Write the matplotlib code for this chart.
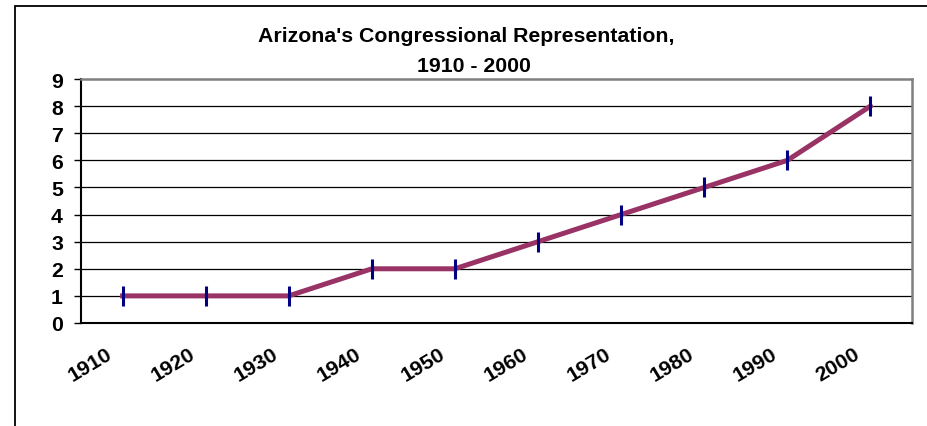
import matplotlib.pyplot as plt
from matplotlib.patches import Rectangle
from matplotlib.transforms import ScaledTranslation

plt.rcParams['font.family'] = ['Liberation Sans', 'DejaVu Sans']

years = ['1910', '1920', '1930', '1940', '1950', '1960', '1970', '1980', '1990', '2000']
seats = [1, 1, 1, 2, 2, 3, 4, 5, 6, 8]

W, H = 927, 427
FS = 15.3
fig = plt.figure(figsize=(W / 100, H / 100), dpi=100)
ax = fig.add_axes([81 / W, 1 - 324 / H, (912 - 81) / W, (324 - 80) / H])

# outer chart border (runs off the right and bottom edges)
fig.patches.append(Rectangle((15 / W, -0.1), 1.2, 1 - 7 / H + 0.1, transform=fig.transFigure,
                             fill=False, edgecolor='black', linewidth=1.3))

x = range(len(years))
ax.plot(x, seats, color='#993366', linewidth=3.6, zorder=3)
ax.plot(x, seats, linestyle='none', marker='|', markersize=15, markeredgewidth=2.2,
        color='#000080', zorder=4)

ax.set_xlim(-0.5, len(years) - 0.5)
ax.set_ylim(0, 9)
ax.set_yticks(range(10))
ax.set_yticklabels([str(i) for i in range(10)], fontsize=FS, fontweight='bold')
for yv in range(1, 9):
    ax.axhline(yv, color='black', linewidth=0.9, zorder=1)

ax.set_xticks(list(x))
ax.set_xticklabels(years, fontsize=FS, fontweight='bold', rotation=31, ha='right', va='top')
ax.tick_params(axis='x', length=0, pad=15)
ax.tick_params(axis='y', length=5, width=1, pad=8, direction='out')
shift = ScaledTranslation(-0.07, 0, fig.dpi_scale_trans)
for lab in ax.get_xticklabels():
    lab.set_transform(lab.get_transform() + shift)

for side in ['top', 'right']:
    ax.spines[side].set_color('#808080')
    ax.spines[side].set_linewidth(1.8)
for side in ['left', 'bottom']:
    ax.spines[side].set_color('black')
    ax.spines[side].set_linewidth(1.5)

fig.text(466 / W, 1 - 41.5 / H, "Arizona's Congressional Representation,", ha='center', va='baseline',
         fontsize=FS, fontweight='bold')
fig.text(474 / W, 1 - 71.5 / H, "1910 - 2000", ha='center', va='baseline',
         fontsize=FS, fontweight='bold')

fig.savefig('out.png', dpi=100)
